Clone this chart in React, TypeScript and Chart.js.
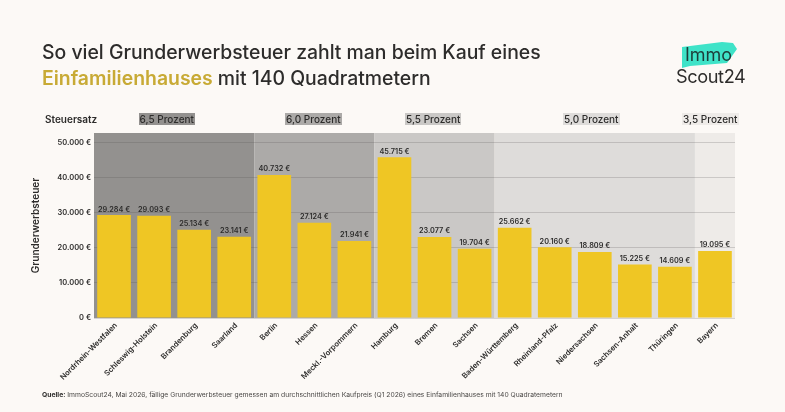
import { useEffect, useRef } from "react";
import { Chart, registerables, type Plugin } from "chart.js";

Chart.register(...registerables);

const FONT = "Inter, sans-serif";
const INK = "#2d2c2b";

const states = [
  "Nordrhein-Westfalen", "Schleswig-Holstein", "Brandenburg", "Saarland",
  "Berlin", "Hessen", "Meckl.-Vorpommern",
  "Hamburg", "Bremen", "Sachsen",
  "Baden-Württemberg", "Rheinland-Pfalz", "Niedersachsen", "Sachsen-Anhalt", "Thüringen",
  "Bayern",
];
const taxValues = [
  29284, 29093, 25134, 23141,
  40732, 27124, 21941,
  45715, 23077, 19704,
  25662, 20160, 18809, 15225, 14609,
  19095,
];
const yTicks = [0, 10000, 20000, 30000, 40000, 50000];
const rateLabels = ["6,5 Prozent", "6,0 Prozent", "5,5 Prozent", "5,0 Prozent", "3,5 Prozent"];
const rateCounts = [4, 3, 3, 5, 1];
const rateColors = ["#93918f", "#acaaa8", "#cac8c6", "#dedcda", "#eeebe8"];
// linke Kante der Beschriftung, von Hand ausgerichtet wie im Original
const rateLabelX = [138.5, 285, 405, 563, 682];

const euro = (v: number) => `${v.toLocaleString("de-DE")} €`;

const bandsPlugin: Plugin<"bar"> = {
  id: "bands",
  beforeDraw(chart) {
    const { ctx, chartArea, scales } = chart;
    const x = scales.x;
    const step = x.getPixelForValue(1) - x.getPixelForValue(0);
    let start = 0;
    ctx.save();
    rateCounts.forEach((count, i) => {
      const left = x.getPixelForValue(start) - step / 2;
      const right = x.getPixelForValue(start + count - 1) + step / 2;
      ctx.fillStyle = rateColors[i];
      ctx.fillRect(left, chartArea.top, right - left, chartArea.bottom - chartArea.top);
      start += count;
    });
    ctx.restore();
  },
};

const valueLabelsPlugin: Plugin<"bar"> = {
  id: "valueLabels",
  afterDatasetsDraw(chart) {
    const { ctx } = chart;
    const meta = chart.getDatasetMeta(0);
    ctx.save();
    ctx.font = `600 7.3px ${FONT}`;
    ctx.fillStyle = INK;
    ctx.textAlign = "center";
    ctx.textBaseline = "bottom";
    meta.data.forEach((bar, i) => {
      ctx.fillText(euro(taxValues[i]), bar.x, bar.y - 2);
    });
    ctx.restore();
  },
};

function TaxChart() {
  const canvasRef = useRef<HTMLCanvasElement>(null);

  useEffect(() => {
    if (!canvasRef.current) return;
    const chart = new Chart(canvasRef.current, {
      type: "bar",
      data: {
        labels: states,
        datasets: [
          {
            data: taxValues,
            backgroundColor: "#efc624",
            barPercentage: 0.84,
            categoryPercentage: 1,
          },
        ],
      },
      options: {
        animation: false,
        responsive: false,
        layout: { padding: { left: 27, right: 50, top: 133, bottom: 0 } },
        scales: {
          x: {
            grid: { display: false, drawTicks: false },
            border: { display: false },
            afterFit: (s) => {
              s.height = 94;
            },
            ticks: {
              autoSkip: false,
              minRotation: 45,
              maxRotation: 45,
              padding: 3,
              labelOffset: 2,
              color: INK,
              font: { family: FONT, size: 7.6, weight: 600 },
            },
          },
          y: {
            min: 0,
            max: 52650,
            afterFit: (s) => {
              s.width = 67;
            },
            // feste Ticks, sonst teilt Chart.js den Bereich gleichmaessig bis max
            afterBuildTicks: (s) => {
              s.ticks = yTicks.map((value) => ({ value }));
            },
            title: {
              display: true,
              text: "Grunderwerbsteuer",
              color: INK,
              font: { family: FONT, size: 10, weight: 600 },
              padding: { top: 3, bottom: 0 },
            },
            grid: { color: "rgba(80,78,76,0.22)", drawTicks: false },
            border: { display: false },
            ticks: {
              padding: 3,
              color: INK,
              font: { family: FONT, size: 7.5, weight: 600 },
              callback: (v) => euro(Number(v)),
            },
          },
        },
        plugins: {
          legend: { display: false },
          tooltip: { enabled: false },
        },
      },
      plugins: [bandsPlugin, valueLabelsPlugin],
    });
    return () => chart.destroy();
  }, []);

  return <canvas ref={canvasRef} width={785} height={412} style={{ position: "absolute", left: 0, top: 0 }} />;
}

export default function App() {
  useEffect(() => {
    document.body.style.margin = "0";
    document.body.style.background = "#fcf9f6";
  }, []);

  return (
    <div style={{ position: "relative", width: 785, height: 412, overflow: "hidden", background: "#fcf9f6", fontFamily: FONT, color: INK }}>
      <TaxChart />

      <div style={{ position: "absolute", left: 42, top: 39, fontSize: 19.4, lineHeight: "26px", fontWeight: 500, whiteSpace: "nowrap" }}>
        So viel Grunderwerbsteuer zahlt man beim Kauf eines
        <br />
        <span style={{ color: "#c8aa35", fontWeight: 600 }}>Einfamilienhauses</span> mit 140 Quadratmetern
      </div>

      <svg width={80} height={34} style={{ position: "absolute", left: 672, top: 39 }}>
        <polygon points="10,8 50,3 61,4 65,10 55,24 18,27 10,29" fill="#3fe3c8" />
      </svg>
      <div style={{ position: "absolute", left: 685, top: 44, fontSize: 18, lineHeight: "22px", color: "#1d3b38" }}>Immo</div>
      <div style={{ position: "absolute", left: 676, top: 64, fontSize: 18.2, lineHeight: "24px", letterSpacing: -0.4 }}>Scout24</div>

      <div style={{ position: "absolute", left: 45, top: 112, fontSize: 10, lineHeight: "14px", fontWeight: 600 }}>Steuersatz</div>
      {rateLabels.map((label, i) => (
        <span
          key={label}
          style={{
            position: "absolute",
            left: rateLabelX[i],
            top: 113,
            padding: "0 1px",
            fontSize: 10,
            lineHeight: "12px",
            fontWeight: 500,
            background: rateColors[i],
            whiteSpace: "nowrap",
          }}
        >
          {label}
        </span>
      ))}

      <div style={{ position: "absolute", left: 42, top: 390, fontSize: 6.75, lineHeight: "10px", color: "#4a4846", whiteSpace: "nowrap" }}>
        <b style={{ color: INK }}>Quelle:</b> ImmoScout24, Mai 2026, fällige Grunderwerbsteuer gemessen am durchschnittlichen Kaufpreis (Q1 2026) eines Einfamilienhauses mit 140 Quadratemetern
      </div>
    </div>
  );
}
